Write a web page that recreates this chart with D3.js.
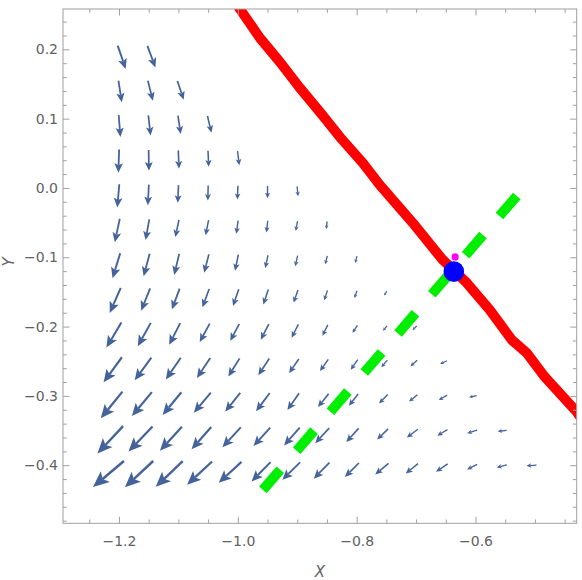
<!DOCTYPE html>
<html>
<head>
<meta charset="utf-8">
<script src="https://cdnjs.cloudflare.com/ajax/libs/d3/7.8.5/d3.min.js"></script>
<style>
  body { margin: 0; background: #fff; }
  text { font-family: "DejaVu Sans", sans-serif; }
</style>
</head>
<body>
<div id="chart"></div>
<script>
// vector field grid (columns / rows)
var colX = [-1.2, -1.15, -1.1, -1.05, -1.0, -0.95, -0.9, -0.85, -0.8, -0.75, -0.7, -0.65, -0.6, -0.55, -0.5];
var rowY = [0.2, 0.15, 0.1, 0.05, 0.0, -0.05, -0.1, -0.15, -0.2, -0.25, -0.3, -0.35, -0.4];

// arrow vectors [u, v] for each row, starting at the first column
var vecRows = [
  [[0.0135, -0.0336], [0.0135, -0.0313]],
  [[0.0056, -0.0313], [0.0084, -0.0288], [0.0106, -0.0270]],
  [[0.0029, -0.0313], [0.0039, -0.0288], [0.0045, -0.0264], [0.0067, -0.0241]],
  [[-0.0012, -0.0336], [0.0005, -0.0298], [0.0012, -0.0264], [0.0012, -0.0231], [0.0029, -0.0206]],
  [[-0.0034, -0.0336], [-0.0017, -0.0298], [-0.0012, -0.0255], [-0.0005, -0.0216], [-0.0008, -0.0198],
   [0.0, -0.0177], [0.0017, -0.0144]],
  [[-0.0084, -0.0336], [-0.0062, -0.0298], [-0.0062, -0.0249], [-0.0050, -0.0216], [-0.0029, -0.0192],
   [-0.0022, -0.0169], [-0.0029, -0.0144], [-0.0012, -0.0111]],
  [[-0.0129, -0.0361], [-0.0101, -0.0327], [-0.0084, -0.0303], [-0.0079, -0.0264], [-0.0055, -0.0231],
   [-0.0045, -0.0183], [-0.0039, -0.0154], [-0.0034, -0.0120], [-0.0029, -0.0097]],
  [[-0.0185, -0.0361], [-0.0151, -0.0322], [-0.0130, -0.0298], [-0.0113, -0.0264], [-0.0096, -0.0241],
   [-0.0084, -0.0216], [-0.0072, -0.0183], [-0.0055, -0.0144], [-0.0045, -0.0105], [-0.0045, -0.0062]],
  [[-0.0252, -0.0361], [-0.0219, -0.0336], [-0.0185, -0.0313], [-0.0168, -0.0264], [-0.0151, -0.0245],
   [-0.0135, -0.0224], [-0.0113, -0.0192], [-0.0089, -0.0159], [-0.0084, -0.0105], [-0.0067, -0.0072],
   [-0.0072, -0.0058]],
  [[-0.0308, -0.0361], [-0.0281, -0.0327], [-0.0252, -0.0313], [-0.0224, -0.0288], [-0.0190, -0.0260],
   [-0.0185, -0.0241], [-0.0163, -0.0202], [-0.0140, -0.0169], [-0.0118, -0.0144], [-0.0101, -0.0101],
   [-0.0113, -0.0087], [-0.0113, -0.0048]],
  [[-0.0365, -0.0385], [-0.0336, -0.0346], [-0.0315, -0.0327], [-0.0286, -0.0288], [-0.0252, -0.0270],
   [-0.0230, -0.0264], [-0.0197, -0.0241], [-0.0180, -0.0192], [-0.0156, -0.0169], [-0.0146, -0.0130],
   [-0.0140, -0.0097], [-0.0140, -0.0072], [-0.0130, -0.0025]],
  [[-0.0432, -0.0394], [-0.0404, -0.0361], [-0.0370, -0.0346], [-0.0331, -0.0322], [-0.0308, -0.0288],
   [-0.0281, -0.0264], [-0.0264, -0.0255], [-0.0235, -0.0216], [-0.0207, -0.0198], [-0.0185, -0.0154],
   [-0.0185, -0.0120], [-0.0168, -0.0087], [-0.0168, -0.0048], [-0.0151, -0.0014]],
  [[-0.0521, -0.0375], [-0.0476, -0.0379], [-0.0454, -0.0371], [-0.0421, -0.0336], [-0.0382, -0.0303],
   [-0.0320, -0.0278], [-0.0298, -0.0250], [-0.0264, -0.0231], [-0.0235, -0.0202], [-0.0224, -0.0159],
   [-0.0207, -0.0144], [-0.0197, -0.0111], [-0.0168, -0.0072], [-0.0168, -0.0039], [-0.0168, -0.0010]]
];

// red curve
var redX = [-1.005, -0.9965, -0.9628, -0.9292, -0.8955, -0.8619, -0.8283, -0.7896, -0.7610, -0.7055,
            -0.6550, -0.6146, -0.5759, -0.5390, -0.5137, -0.4834, -0.4296, -0.42];
var redY = [0.27, 0.2582, 0.2164, 0.1817, 0.1442, 0.1096, 0.0736, 0.0361, 0.0043, -0.0505,
            -0.1039, -0.1370, -0.1760, -0.2192, -0.2380, -0.2726, -0.3231, -0.335];

// green dashed line
var greenX = [-0.9578, -0.5305];
var greenY = [-0.4356, -0.0115];

// points
var bluePt = [-0.6365, -0.1207];
var magentaPt = [-0.6343, -0.0995];

// ticks
var xMajor = [-1.2, -1.0, -0.8, -0.6];
var xMinor = [-1.25, -1.15, -1.1, -1.05, -0.95, -0.9, -0.85, -0.75, -0.7, -0.65, -0.55, -0.5, -0.45];
var yMajor = [0.2, 0.1, 0.0, -0.1, -0.2, -0.3, -0.4];
var yMinor = [0.24, 0.22, 0.18, 0.16, 0.14, 0.12, 0.08, 0.06, 0.04, 0.02, -0.02, -0.04, -0.06, -0.08,
              -0.12, -0.14, -0.16, -0.18, -0.22, -0.24, -0.26, -0.28, -0.32, -0.34, -0.36, -0.38,
              -0.42, -0.44, -0.46, -0.48];

drawChart(582, 580);

function drawChart(w, h) {
  var left = 63, right = 576.7, top = 9, bottom = 523.3;

  var x = d3.scaleLinear().domain([-1.2942, -0.4297]).range([left, right]);
  var y = d3.scaleLinear().domain([0.2582, -0.4838]).range([top, bottom]);

  var svg = d3.select("#chart").append("svg")
      .attr("width", w)
      .attr("height", h);

  svg.append("defs").append("clipPath").attr("id", "plotclip")
    .append("rect")
      .attr("x", left).attr("y", top)
      .attr("width", right - left).attr("height", bottom - top);

  // arrows
  var arrows = [];
  vecRows.forEach(function(row, i) {
    row.forEach(function(vec, j) {
      arrows.push({x: colX[j], y: rowY[i], u: vec[0], v: vec[1]});
    });
  });

  var f = 0.16;
  var arrowColor = "#44639a";
  var ag = svg.append("g").attr("clip-path", "url(#plotclip)");

  arrows.forEach(function(d) {
    var x0 = x(d.x - f * d.u), y0 = y(d.y - f * d.v);
    var x1 = x(d.x + (1 - f) * d.u), y1 = y(d.y + (1 - f) * d.v);
    var dx = x1 - x0, dy = y1 - y0;
    var L = Math.sqrt(dx * dx + dy * dy);
    var ux = dx / L, uy = dy / L;
    var px = -uy, py = ux;
    var hl = 0.38 * L + 0.8, hw = 0.16 * L + 0.6;
    var bx = x1 - ux * hl, by = y1 - uy * hl;
    var nx = x1 - ux * hl * 0.78, ny = y1 - uy * hl * 0.78;

    ag.append("line")
      .attr("x1", x0).attr("y1", y0)
      .attr("x2", nx).attr("y2", ny)
      .attr("stroke", arrowColor)
      .attr("stroke-width", Math.max(1.3, 0.9 + 0.04 * L));

    ag.append("path")
      .attr("d", "M" + x1 + "," + y1 +
                 "L" + (bx + px * hw) + "," + (by + py * hw) +
                 "L" + nx + "," + ny +
                 "L" + (bx - px * hw) + "," + (by - py * hw) + "Z")
      .attr("fill", arrowColor);
  });

  var lineGen = d3.line()
      .x(function(d) { return x(d[0]); })
      .y(function(d) { return y(d[1]); });

  // green dashed line
  var gx0 = x(greenX[0]), gy0 = y(greenY[0]), gx1 = x(greenX[1]), gy1 = y(greenY[1]);
  var glen = Math.sqrt((gx1 - gx0) * (gx1 - gx0) + (gy1 - gy0) * (gy1 - gy0));
  var dash = 26.6, gap = (glen - 8 * dash) / 7;
  svg.append("path")
    .attr("d", lineGen(greenX.map(function(v, i) { return [v, greenY[i]]; })))
    .attr("clip-path", "url(#plotclip)")
    .attr("fill", "none")
    .attr("stroke", "#00ee00")
    .attr("stroke-width", 10)
    .attr("stroke-dasharray", dash + "," + gap);

  // red line
  svg.append("path")
    .attr("d", lineGen(redX.map(function(v, i) { return [v, redY[i]]; })))
    .attr("clip-path", "url(#plotclip)")
    .attr("fill", "none")
    .attr("stroke", "#ff0000")
    .attr("stroke-width", 10)
    .attr("stroke-linejoin", "round");

  svg.append("circle")
    .attr("cx", x(magentaPt[0])).attr("cy", y(magentaPt[1]))
    .attr("r", 3.6)
    .attr("fill", "#ff00ff");

  svg.append("circle")
    .attr("cx", x(bluePt[0])).attr("cy", y(bluePt[1]))
    .attr("r", 10.3)
    .attr("fill", "#0000ff");

  // frame
  svg.append("rect")
    .attr("x", left).attr("y", top)
    .attr("width", right - left).attr("height", bottom - top)
    .attr("fill", "none")
    .attr("stroke", "#a0a0a0")
    .attr("stroke-width", 1);

  var fmt = d3.format(".1f");

  function styleAxis(g) {
    g.select(".domain").remove();
    g.selectAll(".tick line").attr("stroke", "#a0a0a0");
    g.selectAll(".tick text")
      .attr("fill", "#626262")
      .style("font-size", "14px")
      .style("font-family", "'DejaVu Sans', sans-serif");
  }

  // bottom
  svg.append("g").attr("transform", "translate(0," + bottom + ")")
    .call(d3.axisBottom(x).tickValues(xMajor).tickSize(-6.5).tickPadding(12.5).tickFormat(fmt))
    .call(styleAxis);
  svg.append("g").attr("transform", "translate(0," + bottom + ")")
    .call(d3.axisBottom(x).tickValues(xMinor).tickSize(-3.8).tickFormat(""))
    .call(styleAxis);
  // top
  svg.append("g").attr("transform", "translate(0," + top + ")")
    .call(d3.axisTop(x).tickValues(xMajor).tickSize(-6.5).tickFormat(""))
    .call(styleAxis);
  svg.append("g").attr("transform", "translate(0," + top + ")")
    .call(d3.axisTop(x).tickValues(xMinor).tickSize(-3.8).tickFormat(""))
    .call(styleAxis);
  // left
  svg.append("g").attr("transform", "translate(" + left + ",0)")
    .call(d3.axisLeft(y).tickValues(yMajor).tickSize(-6.5).tickPadding(5).tickFormat(fmt))
    .call(styleAxis);
  svg.append("g").attr("transform", "translate(" + left + ",0)")
    .call(d3.axisLeft(y).tickValues(yMinor).tickSize(-3.8).tickFormat(""))
    .call(styleAxis);
  // right
  svg.append("g").attr("transform", "translate(" + right + ",0)")
    .call(d3.axisRight(y).tickValues(yMajor).tickSize(-6.5).tickFormat(""))
    .call(styleAxis);
  svg.append("g").attr("transform", "translate(" + right + ",0)")
    .call(d3.axisRight(y).tickValues(yMinor).tickSize(-3.8).tickFormat(""))
    .call(styleAxis);

  // axis labels
  svg.append("text")
    .attr("x", 320).attr("y", 577)
    .attr("text-anchor", "middle")
    .style("font-size", "15px")
    .style("font-style", "italic")
    .attr("fill", "#626262")
    .text("X");

  svg.append("text")
    .attr("transform", "translate(14,262) rotate(-90)")
    .attr("text-anchor", "middle")
    .style("font-size", "15px")
    .style("font-style", "italic")
    .attr("fill", "#626262")
    .text("Y");
}
</script>
</body>
</html>
